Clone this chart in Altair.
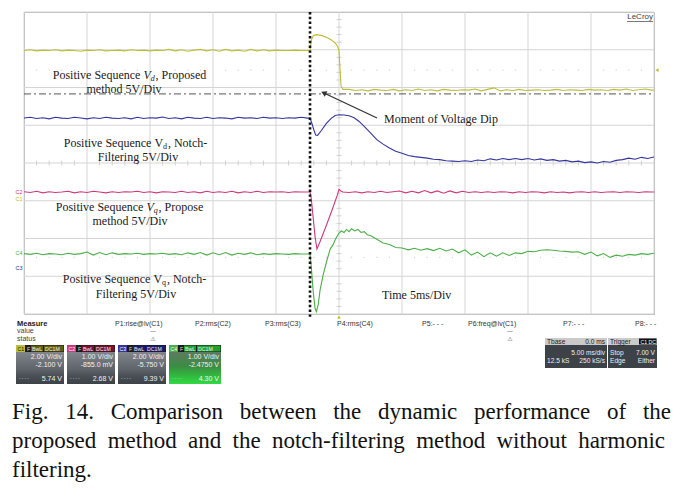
import altair as alt
import pandas as pd

# ---------------- trace data read from the screen capture ----------------
# time in ms (5 ms/div, 0 = trigger at screen centre), amplitude in divisions
STEP = 0.5
DIP_T = -2.3          # moment of the voltage dip (ms)
DASHDOT_V = 1.83      # dash-dot reference level (div)
C1_MARK_V = 2.46      # C1 trigger-level marker at right edge (div)

# C1 (yellow) - positive sequence Vd, proposed method
C1_PRE = [2.98, 3.00, 2.97, 2.99, 2.98, 3.00, 2.97, 2.99, 2.98, 2.96,
          2.99, 2.98, 3.00, 2.97, 2.98, 2.99, 2.97, 3.00, 2.98, 2.99,
          2.97, 2.99, 2.98, 3.01, 2.97, 3.00, 2.96, 2.99, 3.01, 2.97,
          3.00, 2.96, 3.01, 2.97, 2.99, 2.96, 3.01, 2.97, 3.00, 2.97,
          2.99, 2.98, 2.98, 2.99, 2.98, 2.98]
C1_TR_T = [-2.3, -2.2, -2.05, -1.8, -1.4, -1.0, -0.6, -0.3, -0.1, 0.0, 0.08, 0.16, 0.3]
C1_TR_V = [2.98, 3.25, 3.37, 3.40, 3.38, 3.33, 3.26, 3.18, 3.08, 2.98, 2.50, 2.05, 1.95]
C1_POST = [1.95, 1.92, 1.94, 1.91, 1.95, 1.93, 1.92, 1.95, 1.91, 1.94,
           1.92, 1.96, 1.92, 1.94, 1.91, 1.95, 1.93, 1.92, 1.94, 1.93,
           1.96, 1.91, 1.95, 1.99, 1.91, 1.94, 1.92, 1.95, 1.92, 1.93,
           1.94, 1.92, 1.93, 1.95, 1.92, 1.94, 1.93, 1.92, 1.95, 1.93,
           1.94, 1.92, 1.95, 1.93, 1.96, 1.92, 1.94, 1.96, 1.93, 1.94]

# C3 (blue) - positive sequence Vd, notch filtering
C3_PRE = [1.19, 1.21, 1.18, 1.20, 1.17, 1.21, 1.19, 1.18, 1.21, 1.19,
          1.17, 1.20, 1.18, 1.21, 1.19, 1.18, 1.20, 1.17, 1.21, 1.18,
          1.20, 1.19, 1.22, 1.18, 1.20, 1.17, 1.21, 1.19, 1.18, 1.21,
          1.18, 1.20, 1.19, 1.17, 1.21, 1.19, 1.20, 1.18, 1.21, 1.19,
          1.20, 1.18, 1.20, 1.19, 1.21, 1.19]
C3_TR_T = [-2.3, -2.15, -2.0, -1.85, -1.7, -1.4, -1.0, -0.6, -0.3, 0.0, 0.4, 0.8, 1.2, 1.6, 2.0, 2.5]
C3_TR_V = [1.19, 1.05, 0.88, 0.74, 0.73, 0.86, 1.05, 1.19, 1.26, 1.28, 1.27, 1.25, 1.20, 1.10, 0.97, 0.80]
C3_POST = [0.62, 0.50, 0.40, 0.31, 0.26, 0.20, 0.17, 0.15, 0.13, 0.10,
           0.09, 0.06, 0.05, 0.04, 0.06, 0.04, 0.08, 0.06, 0.11, 0.08,
           0.12, 0.09, 0.12, 0.09, 0.12, 0.08, 0.11, 0.07, 0.09, 0.05,
           0.07, 0.03, 0.05, 0.01, 0.03, 0.00, 0.04, 0.02, 0.07, 0.09,
           0.13, 0.10, 0.15, 0.12, 0.16]

# C2 (magenta) - positive sequence Vq, proposed method
C2_PRE = [-0.76, -0.78, -0.75, -0.79, -0.76, -0.78, -0.77, -0.75, -0.79, -0.76,
          -0.78, -0.75, -0.77, -0.79, -0.76, -0.78, -0.76, -0.77, -0.75, -0.78,
          -0.76, -0.79, -0.76, -0.77, -0.78, -0.75, -0.78, -0.76, -0.79, -0.75,
          -0.78, -0.76, -0.78, -0.75, -0.79, -0.76, -0.78, -0.75, -0.78, -0.76,
          -0.77, -0.76, -0.78, -0.76, -0.77, -0.77]
C2_TR_T = [-2.3, -2.2, -2.05, -1.9, -1.75, -1.5, -1.0, -0.5, -0.1, 0.0, 0.15, 0.3]
C2_TR_V = [-0.77, -0.95, -1.45, -1.95, -2.28, -2.08, -1.65, -1.20, -0.82, -0.70, -0.74, -0.77]
C2_POST = [-0.78, -0.76, -0.79, -0.76, -0.78, -0.75, -0.78, -0.76, -0.74, -0.79,
           -0.75, -0.79, -0.73, -0.79, -0.74, -0.80, -0.74, -0.79, -0.75, -0.78,
           -0.76, -0.78, -0.76, -0.78, -0.76, -0.77, -0.79, -0.76, -0.78, -0.76,
           -0.77, -0.79, -0.76, -0.78, -0.77, -0.79, -0.77, -0.76, -0.78, -0.76,
           -0.78, -0.77, -0.76, -0.78, -0.76, -0.77, -0.78, -0.76, -0.77, -0.77]

# C4 (green) - positive sequence Vq, notch filtering
C4_PRE = [-2.40, -2.42, -2.39, -2.43, -2.40, -2.41, -2.43, -2.39, -2.42, -2.40,
          -2.36, -2.44, -2.37, -2.43, -2.38, -2.42, -2.40, -2.41, -2.39, -2.42,
          -2.40, -2.41, -2.39, -2.42, -2.40, -2.43, -2.38, -2.42, -2.37, -2.44,
          -2.38, -2.43, -2.37, -2.44, -2.39, -2.42, -2.38, -2.43, -2.40, -2.42,
          -2.40, -2.41, -2.42, -2.40, -2.41, -2.41]
C4_TR_T = [-2.3, -2.2, -2.05, -1.9, -1.8, -1.65, -1.5, -1.25, -0.95, -0.7, -0.48, -0.25,
           0.0, 0.2, 0.4, 0.6, 0.8, 1.0, 1.25, 1.5, 1.75, 2.0, 2.25, 2.5]
C4_TR_V = [-2.41, -2.75, -3.40, -3.85, -3.94, -3.75, -3.36, -2.95, -2.57, -2.28, -2.17, -2.00,
           -1.86, -1.80, -1.84, -1.76, -1.82, -1.74, -1.80, -1.76, -1.84, -1.82, -1.90, -1.92]
C4_POST = [-2.02, -2.12, -2.16, -2.24, -2.25, -2.30, -2.26, -2.31, -2.27, -2.32,
           -2.26, -2.33, -2.28, -2.38, -2.30, -2.44, -2.36, -2.48, -2.38, -2.47,
           -2.38, -2.45, -2.38, -2.40, -2.34, -2.35, -2.31, -2.30, -2.31, -2.33,
           -2.34, -2.36, -2.35, -2.42, -2.36, -2.46, -2.40, -2.50, -2.44, -2.47,
           -2.42, -2.44, -2.40, -2.42, -2.39]

# read-out panel texts
CH_NAMES = ["C1", "C2", "C3", "C4"]
CH_VDIV = ["2.00 V/div", "1.00 V/div", "2.00 V/div", "1.00 V/div"]
CH_OFFS = ["-2.100 V", "-855.0 mV", "-5.750 V", "-2.4750 V"]
CH_MEAS = ["5.74 V", "2.68 V", "9.39 V", "4.30 V"]
P_LABELS = ["P1:rise@lv(C1)", "P2:rms(C2)", "P3:rms(C3)", "P4:rms(C4)",
            "P5:- - -", "P6:freq@lv(C1)", "P7:- - -", "P8:- - -"]
CAPTION = ["Fig. 14. Comparison between the dynamic performance of the",
           "proposed method and the notch-filtering method without harmonic",
           "filtering."]

# ---------------- styling / layout ----------------
COL = {"C1": "#bdbd38", "C2": "#cc3a7a", "C3": "#35359c", "C4": "#4caf48"}
DARK = {"C1": "#5f5f12", "C2": "#7a1030", "C3": "#1c1c6a", "C4": "#22a02c"}
SERIF = "Liberation Serif"
SANS = "Liberation Sans"
PLOT_L, PLOT_T, PLOT_W, PLOT_H = 24, 12, 630, 302

XS = alt.Scale(domain=[-25, 25], nice=False, zero=False)
YS = alt.Scale(domain=[-4, 4], nice=False, zero=False)


def P(px, py):
    """page pixel -> data units (ms, div) so that everything goes through the scales"""
    return (px - PLOT_L) / PLOT_W * 50.0 - 25.0, 4.0 - (py - PLOT_T) / PLOT_H * 8.0


def enc_xy(xf="x", yf="y"):
    return dict(x=alt.X(f"{xf}:Q", scale=XS, axis=None),
                y=alt.Y(f"{yf}:Q", scale=YS, axis=None))


def trace_df(pre, tr_t, tr_v, post):
    n = len(pre)
    t = [DIP_T - 0.2 - STEP * (n - 1 - i) for i in range(n)]
    v = list(pre)
    t += tr_t
    v += tr_v
    start = tr_t[-1] + STEP
    t += [start + STEP * i for i in range(len(post))]
    v += post
    return pd.DataFrame({"x": t, "y": v, "i": range(len(t))})


def trace(pre, tr_t, tr_v, post, color):
    return alt.Chart(trace_df(pre, tr_t, tr_v, post)).mark_line(
        color=color, strokeWidth=1.1, clip=True).encode(order="i:Q", **enc_xy())


def rules(rows, **kw):
    df = pd.DataFrame(rows, columns=["x", "y", "x2", "y2"])
    return alt.Chart(df).mark_rule(**kw).encode(
        x2="x2:Q", y2="y2:Q", **enc_xy())


def rect_layer(rows, **kw):
    # rows: page px (x0, y0, x1, y1, color)
    recs = []
    for x0, y0, x1, y1, c in rows:
        a, b = P(x0, y0)
        cc, d = P(x1, y1)
        recs.append({"x": a, "y": b, "x2": cc, "y2": d, "col": c})
    ch = alt.Chart(pd.DataFrame(recs))
    if "fill" in kw:
        return ch.mark_rect(**kw).encode(x2="x2:Q", y2="y2:Q", **enc_xy())
    return ch.mark_rect(**kw).encode(x2="x2:Q", y2="y2:Q",
                                     fill=alt.Color("col:N", scale=None), **enc_xy())


def text_layer(rows, size, font=SANS, align="left", baseline="middle",
               style="normal", weight="normal"):
    recs = []
    for px, py, s, c in rows:
        a, b = P(px, py)
        recs.append({"x": a, "y": b, "txt": s, "col": c})
    return alt.Chart(pd.DataFrame(recs)).mark_text(
        fontSize=size, font=font, align=align, baseline=baseline,
        fontStyle=style, fontWeight=weight).encode(
        text="txt:N", color=alt.Color("col:N", scale=None), **enc_xy())


TW = {' ': 250, ',': 250, '.': 250, '-': 333, '/': 278, '1': 500, '4': 500, '5': 500,
      'C': 667, 'D': 722, 'F': 556, 'N': 722, 'P': 556, 'S': 556, 'T': 611, 'V': 722,
      'M': 889, 'a': 444, 'b': 500, 'c': 444, 'd': 500, 'e': 444, 'f': 333, 'g': 500,
      'h': 500, 'i': 278, 'l': 278, 'm': 778, 'n': 500, 'o': 500, 'p': 500, 'q': 500,
      'r': 333, 's': 389, 't': 278, 'u': 500, 'v': 500, 'w': 722, 'y': 500}


def tw(s, size, italic=False):
    if italic and s == "V":
        return 0.611 * size
    return sum(TW.get(ch, 500) for ch in s) / 1000.0 * size


layers = []

# ---- grid ----
grid_rows = []
for k in range(11):
    t = -25 + 5 * k
    grid_rows.append((t, -4, t, 4))
for k in range(9):
    v = -4 + k
    grid_rows.append((-25, v, 25, v))
layers.append(rules(grid_rows, color="#d5d5d5", strokeWidth=1))

# minor ticks on the centre cross
tick_rows = []
dx, dy = 2.5 / 12.6, 2.5 / 37.75
for k in range(-25, 26):
    if k % 5:
        tick_rows.append((k, -dy, k, dy))
for k in range(-20, 21):
    if k % 5:
        tick_rows.append((-dx, k * 0.2, dx, k * 0.2))
layers.append(rules(tick_rows, color="#d0d0d0", strokeWidth=1))

# dotted rows
dots = pd.DataFrame([{"x": k, "y": yy} for yy in (2.46, -2.5) for k in range(-24, 25) if k % 5])
layers.append(alt.Chart(dots).mark_square(size=1.5, color="#d6d6d6", opacity=1).encode(**enc_xy()))

# dash-dot reference
layers.append(rules([(-25, DASHDOT_V, 25, DASHDOT_V)], color="#555555", strokeWidth=1,
                    strokeDash=[7, 3, 2, 3]))

# ---- traces ----
layers.append(trace(C1_PRE, C1_TR_T, C1_TR_V, C1_POST, COL["C1"]))
layers.append(trace(C3_PRE, C3_TR_T, C3_TR_V, C3_POST, COL["C3"]))
layers.append(trace(C2_PRE, C2_TR_T, C2_TR_V, C2_POST, COL["C2"]))
layers.append(trace(C4_PRE, C4_TR_T, C4_TR_V, C4_POST, COL["C4"]))

# moment-of-dip dotted line
layers.append(rules([(DIP_T, 4, DIP_T, P(0, 319)[1])], color="#111111", strokeWidth=2.6,
                    strokeDash=[2.4, 2.4]))

# arrow
a0 = P(377, 118)
a1 = P(325, 93.5)
layers.append(rules([(a0[0], a0[1], a1[0], a1[1])], color="#333333", strokeWidth=1.3))
ah = pd.DataFrame([{"x": P(324.5, 93.3)[0], "y": P(324.5, 93.3)[1]}])
layers.append(alt.Chart(ah).mark_point(shape="triangle", filled=True, size=38, angle=295,
                                       color="#333333", opacity=1).encode(**enc_xy()))

# markers
mk = pd.DataFrame([{"x": P(657, 0)[0], "y": C1_MARK_V}])
layers.append(alt.Chart(mk).mark_point(shape="triangle-left", filled=True, size=14,
                                       color=COL["C1"], opacity=1).encode(**enc_xy()))
tg = pd.DataFrame([{"x": 0, "y": P(0, 317)[1]}])
layers.append(alt.Chart(tg).mark_point(shape="triangle-up", filled=True, size=12,
                                       color="#c9b400", opacity=1).encode(**enc_xy()))

# channel labels on the left edge
layers.append(text_layer([(19, 192, "C2", COL["C2"]), (19, 199, "C1", COL["C1"]),
                          (19, 253, "C4", COL["C4"]), (19, 268, "C3", COL["C3"])],
                         5.5, align="center"))

# LeCroy logo
layers.append(text_layer([(653, 17, "LeCroy", "#444444")], 8, align="right"))
u0, u1 = P(627, 21.5), P(653, 21.5)
layers.append(rules([(u0[0], u0[1], u1[0], u1[1])], color="#555555", strokeWidth=0.8))

# ---- annotations with subscripts ----
ANN = [
    ((131, 75), [("Positive Sequence ", "n"), ("V", "i"), ("d", "is"), (" , Proposed", "n")]),
    ((124, 89), [("method 5V/Div", "n")]),
    ((137, 143), [("Positive Sequence ", "n"), ("V", "n"), ("d", "ns"), (" , Notch-", "n")]),
    ((138, 157), [("Filtering 5V/Div", "n")]),
    ((131, 207), [("Positive Sequence ", "n"), ("V", "i"), ("q", "is"), (" , Propose", "n")]),
    ((130, 221), [("method 5V/Div", "n")]),
    ((136, 279), [("Positive Sequence ", "n"), ("V", "n"), ("q", "ns"), (" , Notch-", "n")]),
    ((136, 294), [("Filtering 5V/Div", "n")]),
]
FS, SS = 12, 8
groups = {"n": [], "i": [], "ns": [], "is": []}
for (cx, cy), pieces in ANN:
    widths = [tw(s, SS if k.endswith("s") else FS, italic=k.startswith("i")) for s, k in pieces]
    widths = [w + (0.8 if k.endswith("s") else 0) for w, (s, k) in zip(widths, pieces)]
    x = cx - sum(widths) / 2
    for (s, k), w in zip(pieces, widths):
        yy = cy + 3.5 if k.endswith("s") else cy
        groups[k].append((x, yy, s, "#1a1a1a"))
        x += w
layers.append(text_layer(groups["n"], FS, font=SERIF))
layers.append(text_layer(groups["i"], FS, font=SERIF, style="italic"))
layers.append(text_layer(groups["ns"], SS, font=SERIF))
layers.append(text_layer(groups["is"], SS, font=SERIF, style="italic"))
layers.append(text_layer([(384, 119, "Moment of Voltage Dip", "#1a1a1a"),
                          (382, 295, "Time 5ms/Div", "#1a1a1a")], FS, font=SERIF))

# ---- measurement read-out ----
layers.append(text_layer([(17, 324, "Measure", "#222222")], 7.5, weight="bold"))
layers.append(text_layer([(17, 331, "value", "#444444"), (17, 339, "status", "#444444")], 7))
P_X = [115, 195, 265, 337, 422, 468, 563, 635]
layers.append(text_layer([(x, 324, s, "#333333") for x, s in zip(P_X, P_LABELS)], 7))
layers.append(text_layer([(153, 331, "—", "#555555"), (510, 331, "—", "#555555"),
                          (153, 339, "⚠", "#666666"), (510, 339, "⚠", "#666666")], 6,
                         font="DejaVu Sans", align="center"))

BOX_L = [16, 67, 118, 169]
BOX_W = [48, 48, 48, 52]
hdr_rects, hdr_txt_dark, hdr_txt_light = [], [], []
for L, W, ch in zip(BOX_L, BOX_W, CH_NAMES):
    hdr_rects.append((L, 345, L + W, 352, "#1b1b1b"))
    hdr_rects.append((L, 345, L + 9, 352, COL[ch]))
    hdr_rects.append((L + 15, 345.5, L + 27, 351.5, DARK[ch]))
    hdr_rects.append((L + 28, 345.5, L + W - 0.5, 351.5, DARK[ch]))
    hdr_txt_dark.append((L + 1.5, 348.7, ch, "#111111" if ch == "C1" else "#ffffff"))
    hdr_txt_light.append((L + 11, 348.7, "F", "#dddddd"))
    hdr_txt_light.append((L + 16, 348.7, "BwL", "#f0f0f0"))
    hdr_txt_light.append((L + 29, 348.7, "DC1M", "#f0f0f0"))
layers.append(rect_layer(hdr_rects))

GRAY_GRAD = {"gradient": "linear", "x1": 0, "y1": 0, "x2": 0, "y2": 1,
             "stops": [{"offset": 0, "color": "#81858c"}, {"offset": 0.55, "color": "#5e6269"},
                       {"offset": 0.75, "color": "#4a4e55"}, {"offset": 1, "color": "#3d4148"}]}
GREEN_GRAD = {"gradient": "linear", "x1": 0, "y1": 0, "x2": 0, "y2": 1,
              "stops": [{"offset": 0, "color": "#5d7a60"}, {"offset": 0.45, "color": "#3c8c44"},
                        {"offset": 0.8, "color": "#2fc23e"}, {"offset": 1, "color": "#35d845"}]}
layers.append(rect_layer([(L, 352, L + W, 384, "x") for L, W in zip(BOX_L[:3], BOX_W[:3])],
                         fill=GRAY_GRAD))
layers.append(rect_layer([(BOX_L[3], 352, BOX_L[3] + BOX_W[3], 384, "x")], fill=GREEN_GRAD))
layers.append(text_layer(hdr_txt_dark + hdr_txt_light, 5.2))

body_r = []
body_l = []
for L, W, vd, off, ms in zip(BOX_L, BOX_W, CH_VDIV, CH_OFFS, CH_MEAS):
    body_r += [(L + W - 2, 357, vd, "#f2f2f2"), (L + W - 2, 364.5, off, "#f2f2f2"),
               (L + W - 2, 379, ms, "#f2f2f2")]
    body_l.append((L + 3, 379, "- - - -", "#d0d0d0"))
layers.append(text_layer(body_r, 7, align="right"))
layers.append(text_layer(body_l, 4.5))

# timebase / trigger boxes
layers.append(rect_layer([(545, 338, 607, 345, "#cacaca"), (545, 345, 607, 368, "#3d4148"),
                          (608, 338, 657, 345, "#cacaca"), (608, 345, 657, 368, "#3d4148"),
                          (639, 338.5, 656.5, 344.5, "#111111")]))
layers.append(text_layer([(547, 341.6, "Tbase", "#222222"), (610, 341.6, "Trigger", "#222222"),
                          (547, 361, "12.5 kS", "#eeeeee"), (610, 352.5, "Stop", "#eeeeee"),
                          (610, 361, "Edge", "#eeeeee")], 6.6))
layers.append(text_layer([(605, 341.6, "0.0 ms", "#222222"), (605, 352.5, "5.00 ms/div", "#eeeeee"),
                          (605, 361, "250 kS/s", "#eeeeee"), (655, 352.5, "7.00 V", "#eeeeee"),
                          (655, 361, "Either", "#eeeeee")], 6.6, align="right"))
layers.append(text_layer([(640.5, 341.6, "C1 DC", "#ffffff")], 5.2))

# ---- caption (justified like the printed figure) ----
CAP_FS = 23
CAP_SPANS = [(12, 671, 419), (12, 665, 448), (12, None, 477)]
cap_rows = []
for line, (x0, x1, base) in zip(CAPTION, CAP_SPANS):
    words = line.split(" ")
    ws = [tw(w_, CAP_FS) for w_ in words]
    gap = (x1 - x0 - sum(ws)) / (len(words) - 1) if (x1 and len(words) > 1) else 0
    x = x0
    for w_, wd in zip(words, ws):
        cap_rows.append((x, base, w_, "#111111"))
        x += wd + gap
layers.append(text_layer(cap_rows, CAP_FS, font=SERIF, baseline="alphabetic"))

chart = alt.layer(*layers).properties(
    width=PLOT_W, height=PLOT_H,
    autosize=alt.AutoSizeParams(type="none"),
    padding={"left": 16, "top": 4, "right": 23, "bottom": 178},
    background="white",
).configure_view(stroke="#b3b3b3", strokeWidth=1)

chart.save("out.html", embed_options={"renderer": "svg", "actions": False})
